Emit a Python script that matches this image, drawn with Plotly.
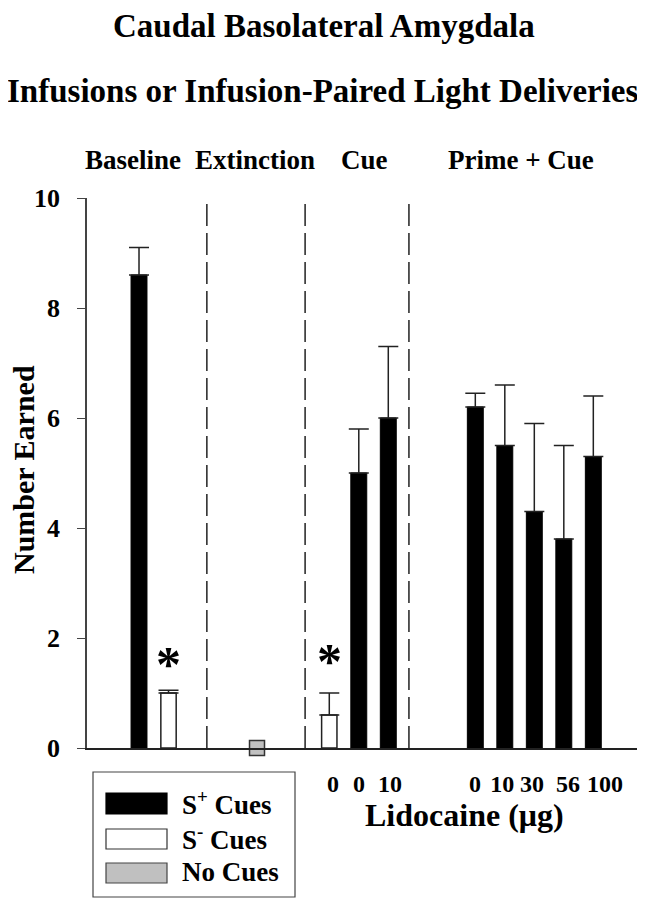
import plotly.graph_objects as go

# ---- data ----
splus_pos = [0, 7.45, 8.45, 11.4, 12.4, 13.4, 14.4, 15.4]
splus_val = [8.6, 5.0, 6.0, 6.2, 5.5, 4.3, 3.8, 5.3]
splus_err = [0.5, 0.8, 1.3, 0.25, 1.1, 1.6, 1.7, 1.1]

sminus_pos = [1, 6.45]
sminus_val = [1.0, 0.6]
sminus_err = [0.05, 0.4]

nocue_pos = [4]
nocue_val = [0.0]

tick_pos = [6.58, 7.46, 8.51, 11.39, 12.31, 13.32, 14.54, 15.8]
tick_text = ["0", "0", "10", "0", "10", "30", "56", "100"]

divider_pos = [2.3, 5.63, 9.15]
section_names = ["Baseline", "Extinction", "Cue", "Prime + Cue"]
section_x = [-0.2, 3.93, 7.66, 12.95]
star_pos = [1, 6.45]
star_y = [1.53, 1.58]

FONT = "Liberation Serif"
OFF = 8  # page body margin

fig = go.Figure()
fig.add_trace(go.Bar(
    x=splus_pos, y=splus_val, width=0.54,
    marker=dict(color="black", line=dict(color="black", width=1)),
    error_y=dict(type="data", array=splus_err, arrayminus=[0] * len(splus_err),
                 symmetric=False, color="#222", thickness=1.5, width=10),
    showlegend=False))
fig.add_trace(go.Bar(
    x=sminus_pos, y=sminus_val, width=0.52,
    marker=dict(color="white", line=dict(color="#222", width=1.5)),
    error_y=dict(type="data", array=sminus_err, arrayminus=[0] * len(sminus_err),
                 symmetric=False, color="#222", thickness=1.5, width=10),
    showlegend=False))
fig.add_trace(go.Scatter(
    x=nocue_pos, y=nocue_val, mode="markers", cliponaxis=False,
    marker=dict(symbol="square", size=15, color="#c0c0c0",
                line=dict(color="#333", width=1.5)),
    showlegend=False))

shapes = []
for d in divider_pos:
    shapes.append(dict(type="line", xref="x", yref="paper", x0=d, x1=d, y0=0, y1=1.0,
                       line=dict(color="#222", width=1.5, dash="22px,7px")))
W, H = 558.0, 550.0
def px(xp):
    return (xp - 87) / W
def py(yp):
    return (748 - yp) / H
shapes.append(dict(type="rect", xref="paper", yref="paper", x0=px(93), x1=px(295),
                   y0=py(897), y1=py(772), line=dict(color="#444", width=1.2)))
swatches = [("black", "black", 793, 814), ("white", "#333", 829, 849), ("#c0c0c0", "#444", 863, 883)]
for fill, lc, t, b in swatches:
    shapes.append(dict(type="rect", xref="paper", yref="paper", x0=px(106), x1=px(167),
                       y0=py(b), y1=py(t), fillcolor=fill, line=dict(color=lc, width=1.2)))

def A(**kw):
    d = dict(showarrow=False, xanchor="center", yanchor="middle")
    d.update(kw)
    return d

ann = []
ann.append(A(text="<b>Caudal Basolateral Amygdala</b>", xref="paper", yref="paper",
             x=px(324), y=py(26), font=dict(size=33, family=FONT, color="black")))
ann.append(A(text="<b>Infusions or Infusion-Paired Light Deliveries</b>", xref="paper", yref="paper",
             x=px(323), y=py(91), font=dict(size=33, family=FONT, color="black")))
for name, sx in zip(section_names, section_x):
    ann.append(A(text="<b>" + name + "</b>", xref="x", yref="paper", x=sx, y=py(160),
                 font=dict(size=27, family=FONT, color="black")))
for sx, sy in zip(star_pos, star_y):
    ann.append(A(text="<b>*</b>", xref="x", yref="y", x=sx, y=sy,
                 font=dict(size=50, family=FONT, color="black")))
ann.append(A(text="<b>Number Earned</b>", xref="paper", yref="paper", x=px(23), y=py(470),
             textangle=-90, font=dict(size=30, family=FONT, color="black")))
ann.append(A(text="<b>Lidocaine (\u03bcg)</b>", xref="paper", yref="paper", x=px(464), y=py(815),
             font=dict(size=32, family=FONT, color="black")))
legend_labels = ["<b>S<sup>+</sup> Cues</b>", "<b>S<sup>-</sup> Cues</b>", "<b>No Cues</b>"]
legend_y = [803, 838, 872]
for lab, ly in zip(legend_labels, legend_y):
    ann.append(A(text=lab, xref="paper", yref="paper", x=px(180), y=py(ly), xanchor="left",
                 font=dict(size=27, family=FONT, color="black")))

fig.update_layout(
    width=645 - OFF, height=900 - OFF,
    margin=dict(l=87 - OFF, r=0, t=198 - OFF, b=152, autoexpand=False),
    paper_bgcolor="white", plot_bgcolor="white",
    barmode="overlay",
    shapes=shapes, annotations=ann,
    font=dict(family=FONT, color="black"),
    xaxis=dict(range=[-1.763, 17.152], showgrid=False, zeroline=False, showline=True,
               linecolor="#222", linewidth=1.5, tickmode="array", tickvals=tick_pos,
               ticktext=["<b>" + t + "</b>" for t in tick_text], ticks="", tickangle=0,
               tickfont=dict(size=24, family=FONT, color="black"), ticklabelstandoff=13),
    yaxis=dict(range=[0, 10], showgrid=False, zeroline=False, showline=True,
               linecolor="#444", linewidth=1.5, tickmode="array", tickvals=[0, 2, 4, 6, 8, 10],
               ticktext=["<b>%d</b>" % v for v in [0, 2, 4, 6, 8, 10]],
               ticks="outside", ticklen=8, tickwidth=1.2, tickcolor="#444",
               tickfont=dict(size=26, family=FONT, color="black"), ticklabelstandoff=12),
)

fig.write_html("out.html")
